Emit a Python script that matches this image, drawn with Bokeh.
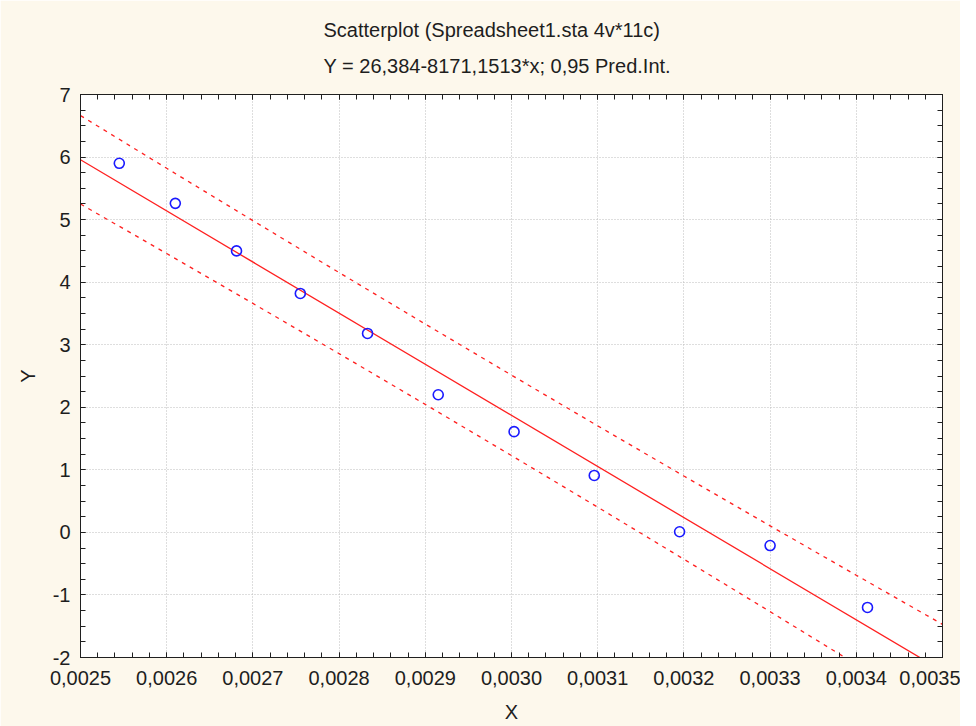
from bokeh.plotting import figure
from bokeh.models import (Title, LinearAxis, SingleIntervalTicker, CustomJSTickFormatter,
                          Range1d, ColumnDataSource, CustomLabelingPolicy)
from bokeh.embed import file_html
from bokeh.resources import INLINE

# ---- data ----
x_obs = [0.002545, 0.00261, 0.002681, 0.002755, 0.002833, 0.002915,
         0.003003, 0.003096, 0.003195, 0.0033, 0.003413]
y_obs = [5.90, 5.26, 4.50, 3.82, 3.18, 2.20, 1.61, 0.91, 0.01, -0.21, -1.20]

fit_x = [0.0025, 0.0035]
fit_y = [5.956, -2.215]

band_x = [0.0025, 0.0026, 0.0027, 0.0028, 0.0029, 0.0030,
          0.0031, 0.0032, 0.0033, 0.0034, 0.0035]
band_upper = [6.663, 5.820, 4.984, 4.153, 3.330, 2.514,
              1.703, 0.901, 0.105, -0.685, -1.470]
band_lower = [5.249, 4.458, 3.660, 2.857, 2.046, 1.228,
              0.403, -0.429, -1.267, -2.111, -2.960]

title_line1 = "Scatterplot (Spreadsheet1.sta 4v*11c)"
title_line2 = "Y = 26,384-8171,1513*x; 0,95 Pred.Int."
x_label = "X"
y_label = "Y"

FONT = "Liberation Sans"
TXT = "#1e1e1e"
BG = "#FDF8EC"

p = figure(width=960, height=726, output_backend="svg", toolbar_location=None,
           x_range=Range1d(0.0025, 0.0035), y_range=Range1d(-2, 7),
           x_axis_label=x_label, y_axis_label=y_label,
           min_border_left=80, min_border_right=18, min_border_top=94, min_border_bottom=69)
p.border_fill_color = BG
p.background_fill_color = "white"
p.outline_line_color = "#202020"
p.outline_line_width = 1

xt = SingleIntervalTicker(interval=0.0001, num_minor_ticks=5)
yt = SingleIntervalTicker(interval=1, num_minor_ticks=4)
xfmt = CustomJSTickFormatter(code="return tick.toFixed(4).replace('.', ',');")
yfmt = CustomJSTickFormatter(code="return Math.round(tick).toString();")
no_labels = CustomLabelingPolicy(code="""
const ids = [...indices];
for (const i of ids) { indices.unset(i); }
return indices;
""")

def style_axis(ax, labels=True):
    ax.axis_line_color = "#202020"
    ax.major_tick_in = 5
    ax.major_tick_out = 0
    ax.minor_tick_in = 5
    ax.minor_tick_out = 0
    ax.major_tick_line_color = "#202020"
    ax.minor_tick_line_color = "#202020"
    if labels:
        ax.major_label_text_font = FONT
        ax.major_label_text_font_size = "20px"
        ax.major_label_text_color = TXT
        ax.axis_label_text_font = FONT
        ax.axis_label_text_font_size = "20px"
        ax.axis_label_text_color = TXT
        ax.axis_label_text_font_style = "normal"
    else:
        ax.major_label_policy = no_labels
        ax.major_label_text_font_size = "8px"
        ax.major_label_standoff = 0

xa = p.xaxis[0]
xa.ticker = xt
xa.formatter = xfmt
style_axis(xa)
xa.major_label_standoff = 13
xa.axis_label_standoff = 13

ya = p.yaxis[0]
ya.ticker = yt
ya.formatter = yfmt
style_axis(ya)
ya.major_label_standoff = 10
ya.axis_label_standoff = 11

top_ax = LinearAxis(ticker=xt)
style_axis(top_ax, labels=False)
right_ax = LinearAxis(ticker=yt)
style_axis(right_ax, labels=False)
p.add_layout(top_ax, "above")
p.add_layout(right_ax, "right")

p.xgrid.ticker = xt
p.ygrid.ticker = yt
for g in (p.xgrid[0], p.ygrid[0]):
    g.grid_line_color = "#bcbcbc"
    g.grid_line_dash = "1 2"
    g.grid_line_width = 1

t2 = Title(text=title_line2, align="left", offset=243, text_font=FONT, text_font_size="20px",
           text_font_style="normal", text_color=TXT, standoff=19)
t1 = Title(text=title_line1, align="left", offset=243, text_font=FONT, text_font_size="20px",
           text_font_style="normal", text_color=TXT, standoff=6)
p.add_layout(t2, "above")
p.add_layout(t1, "above")

band = ColumnDataSource(dict(x=band_x, up=band_upper, lo=band_lower))
p.line("x", "up", source=band, line_color="#ff2020", line_width=1.3, line_dash="4 5")
p.line("x", "lo", source=band, line_color="#ff2020", line_width=1.3, line_dash="4 5")
p.line(fit_x, fit_y, line_color="#ff2020", line_width=1.3)
p.scatter(x_obs, y_obs, marker="circle", size=10, fill_color=None,
          line_color="#1a1aff", line_width=1.6)

open("out.html", "w").write(file_html(p, INLINE))
